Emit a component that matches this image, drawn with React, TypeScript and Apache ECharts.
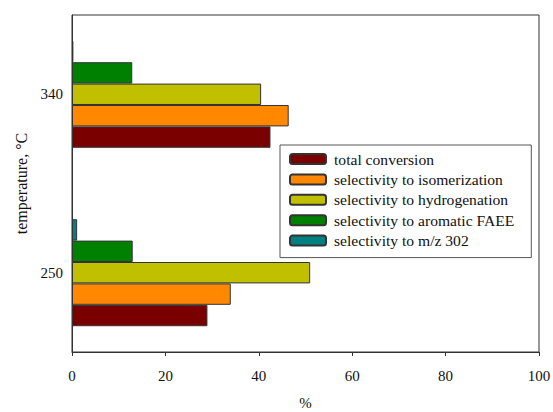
import React, { useEffect, useRef } from "react";
import * as echarts from "echarts";

const temperatures = ["250", "340"];
const seriesNames = [
  "total conversion",
  "selectivity to isomerization",
  "selectivity to hydrogenation",
  "selectivity to aromatic FAEE",
  "selectivity to m/z 302",
];
const totalConversion = [29, 42.5];
const selIsomerization = [34, 46.4];
const selHydrogenation = [51, 40.5];
const selAromaticFAEE = [13, 12.9];
const selMz302 = [1.1, 0.3];
const colors = ["#7a0000", "#ff8800", "#c0c000", "#008000", "#008080"];
const xTicks = [0, 20, 40, 60, 80, 100];

// y axis slots (10 °C steps) spanning the plotted temperature range
const yMin = 210;
const yMax = 380;
const yStep = 10;

export default function App() {
  const ref = useRef<HTMLDivElement>(null);
  useEffect(() => {
    if (!ref.current) return;
    const chart = echarts.init(ref.current, null, { renderer: "svg" });
    const yCats: string[] = [];
    for (let v = yMin; v <= yMax; v += yStep) yCats.push(String(v));
    const values = [totalConversion, selIsomerization, selHydrogenation, selAromaticFAEE, selMz302];
    const font = "Liberation Serif";
    const series = seriesNames.map((name, si) => ({
      name,
      type: "bar",
      barWidth: 21.4,
      barGap: "0%",
      itemStyle: { color: colors[si], borderColor: "#333", borderWidth: 1 },
      data: temperatures.map((t, ti) => [values[si][ti], t]),
    }));
    chart.setOption({
      animation: false,
      grid: {
        left: 72,
        right: 14,
        top: 15,
        bottom: 60,
        outerBoundsMode: "none",
        containLabel: false,
        show: true,
        borderColor: "#333",
        borderWidth: 1,
        backgroundColor: "transparent",
      },
      legend: {
        orient: "vertical",
        left: 280,
        top: 145,
        data: seriesNames,
        itemWidth: 36,
        itemHeight: 10,
        itemGap: 4.4,
        padding: [6, 17, 9, 9],
        borderColor: "#555",
        borderWidth: 1,
        backgroundColor: "#fff",
        textStyle: { fontFamily: font, fontSize: 15.6, color: "#111", padding: [0, 0, 0, 3] },
      },
      xAxis: {
        type: "value",
        min: xTicks[0],
        max: xTicks[xTicks.length - 1],
        interval: 20,
        splitLine: { show: false },
        axisLine: { show: true, lineStyle: { color: "#333" } },
        axisTick: { show: true, length: 4, lineStyle: { color: "#333" } },
        axisLabel: { fontFamily: font, fontSize: 15, color: "#111", margin: 16 },
        name: "%",
        nameLocation: "middle",
        nameGap: 43,
        nameTextStyle: { fontFamily: font, fontSize: 15, color: "#111" },
      },
      yAxis: {
        type: "category",
        data: yCats,
        boundaryGap: false,
        axisLine: { show: true, lineStyle: { color: "#333" } },
        axisTick: { show: false },
        splitLine: { show: false },
        axisLabel: {
          fontFamily: font,
          fontSize: 15,
          color: "#111",
          margin: 9,
          interval: (_i: number, v: string) => temperatures.includes(v),
        },
        name: "temperature, °C",
        nameLocation: "middle",
        nameRotate: 90,
        nameGap: 43,
        nameTextStyle: { fontFamily: font, fontSize: 16, color: "#111" },
      },
      // reversed so the first legend entry sits at the bottom of each group
      series: series.slice().reverse(),
    });
    return () => chart.dispose();
  }, []);
  return (
    <div
      ref={ref}
      style={{ position: "absolute", left: 0, top: 0, width: 553, height: 412 }}
    />
  );
}
